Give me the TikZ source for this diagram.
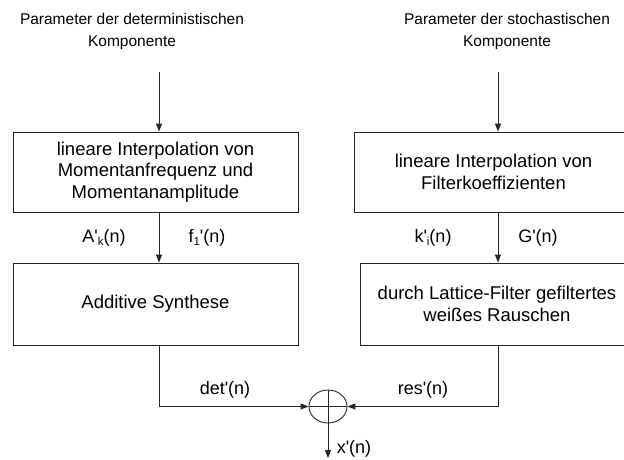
\documentclass[tikz,border=0pt]{standalone}
\usepackage{fontspec}
\setmainfont{Liberation Sans}
\usetikzlibrary{arrows.meta,shapes.geometric}
\newcommand\lsub[1]{\raisebox{-0.35ex}{\fontsize{11.5}{12}\selectfont #1}}
\newcommand\q{\textquotesingle}
\tikzset{
  line/.style={draw=black!85, line width=0.9pt},
  arr/.style={line, -{Triangle[length=8pt,width=6pt]}},
  box/.style={line, rectangle, inner sep=0pt, align=center, font=\fontsize{18.5}{21.5}\selectfont},
  toptext/.style={inner sep=0pt, align=center, font=\fontsize{15.5}{22}\selectfont},
  lbl/.style={inner sep=0pt, font=\fontsize{18}{20}\selectfont},
  sumnode/.style={line, ellipse, minimum width=38pt, minimum height=33pt, inner sep=0pt}
}
\begin{document}
\begin{tikzpicture}[x=1pt,y=-1pt]
\useasboundingbox (0,0) rectangle (624,459);
\clip (0,0) rectangle (624,459);
\node[toptext] (p1) at (132,31) {Parameter der deterministischen\\Komponente};
\node[toptext] (p2) at (507,31) {Parameter der stochastischen\\Komponente};
\coordinate (s1) at (159,72);
\coordinate (s2) at (498,72);
\node[box, minimum width=285pt, minimum height=80pt] (b1) at (155.5,172)
  {lineare Interpolation von\\Momentanfrequenz und\\Momentanamplitude};
\node[box, minimum width=279pt, minimum height=80pt] (b3) at (493.5,172)
  {lineare Interpolation von\\Filterkoeffizienten};
\node[box, minimum width=285pt, minimum height=82pt] (b2) at (155.5,304)
  {Additive Synthese};
\node[box, minimum width=274pt, minimum height=82pt] (b4) at (497,304)
  {durch Lattice-Filter gefiltertes\\weißes Rauschen};
\node[sumnode] (sum) at (328,406.5) {};
\draw[line] (sum.west) -- (sum.east);
\draw[line] (sum.north) -- (sum.south);
\coordinate (out) at (328,458);
\draw[arr] (s1) -- (s1 |- b1.north);
\draw[arr] (s2) -- (s2 |- b3.north);
\draw[arr] (b1.south -| s1) -- (b2.north -| s1);
\draw[arr] (b3.south -| s2) -- (b4.north -| s2);
\draw[arr] (b2.south -| s1) |- (sum.west);
\draw[arr] (b4.south -| s2) |- (sum.east);
\draw[arr] (sum.south) -- (out);
\node[lbl] (la) at (104,238) {A\q\lsub{k}(n)};
\node[lbl] (lf) at (207,238) {f\lsub{1}\q(n)};
\node[lbl] (lk) at (433,238) {k\q\lsub{i}(n)};
\node[lbl] (lg) at (538,238) {G\q(n)};
\node[lbl] (ld) at (225,390) {det\q(n)};
\node[lbl] (lr) at (423,390) {res\q(n)};
\node[lbl] (lx) at (354,449) {x\q(n)};
\end{tikzpicture}
\end{document}
